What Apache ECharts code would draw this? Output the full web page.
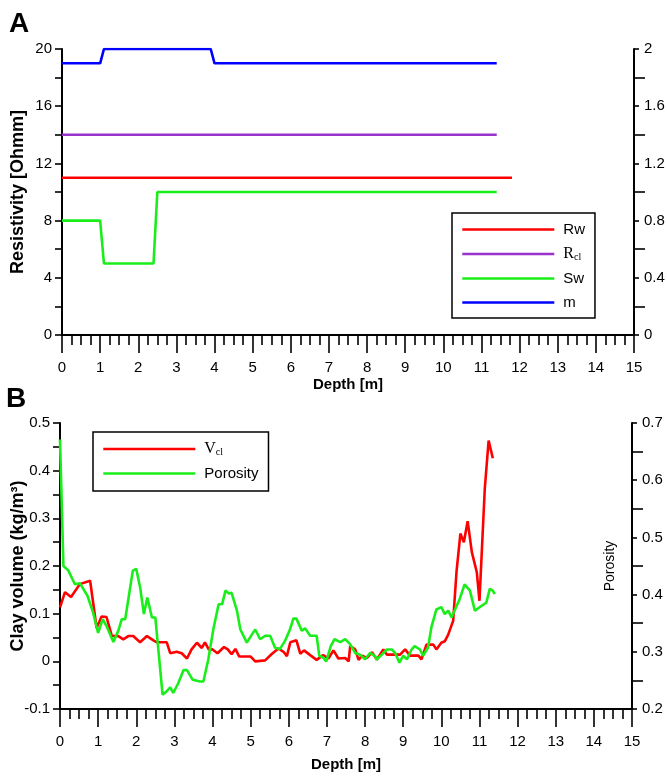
<!DOCTYPE html>
<html><head><meta charset="utf-8">
<script src="https://cdn.jsdelivr.net/npm/echarts@6/dist/echarts.min.js"></script>
<style>html,body{margin:0;padding:0;background:#fff}#c{width:667px;height:778px}</style>
</head><body><div id="c"></div>
<script>
// ---------- Panel A data ----------
const rwDepth  = [0, 11.8];
const rwVal    = [11, 11];
const rclDepth = [0, 11.4];
const rclVal   = [14, 14];
const swDepth  = [0, 1.0, 1.1, 2.4, 2.5, 11.4];
const swVal    = [0.8, 0.8, 0.5, 0.5, 1.0, 1.0];
const mDepth   = [0, 1.0, 1.1, 3.9, 4.0, 11.4];
const mVal     = [1.9, 1.9, 2.0, 2.0, 1.9, 1.9];

// ---------- Panel B data ----------
const vclDepth = [0, 0.13, 0.29, 0.52, 0.79, 0.96, 1.09, 1.22, 1.36, 1.53, 1.66, 1.79, 1.92, 2.1, 2.28, 2.45, 2.54, 2.8, 2.89, 3.06, 3.19, 3.33, 3.45, 3.59, 3.72, 3.8, 3.9, 4.0, 4.13, 4.3, 4.4, 4.5, 4.6, 4.7, 5.0, 5.12, 5.38, 5.56, 5.73, 5.86, 5.95, 6.04, 6.2, 6.3, 6.4, 6.56, 6.73, 6.9, 7.04, 7.17, 7.3, 7.48, 7.57, 7.61, 7.74, 7.83, 7.92, 8.05, 8.18, 8.31, 8.48, 8.57, 8.92, 9.05, 9.18, 9.4, 9.48, 9.61, 9.79, 9.87, 10.0, 10.09, 10.18, 10.31, 10.4, 10.5, 10.59, 10.69, 10.8, 10.93, 11.0, 11.14, 11.24, 11.35];
const vclVal   = [0.113, 0.145, 0.135, 0.162, 0.169, 0.07, 0.094, 0.093, 0.053, 0.053, 0.046, 0.053, 0.053, 0.04, 0.053, 0.044, 0.04, 0.04, 0.017, 0.02, 0.017, 0.006, 0.025, 0.039, 0.028, 0.04, 0.025, 0.025, 0.017, 0.03, 0.025, 0.015, 0.026, 0.01, 0.01, 0.0, 0.002, 0.016, 0.027, 0.02, 0.011, 0.04, 0.044, 0.016, 0.023, 0.013, 0.003, 0.013, 0.006, 0.023, 0.006, 0.007, 0.0, 0.032, 0.025, 0.003, 0.012, 0.007, 0.019, 0.004, 0.025, 0.014, 0.014, 0.025, 0.012, 0.012, 0.004, 0.035, 0.035, 0.025, 0.039, 0.042, 0.056, 0.085, 0.19, 0.268, 0.25, 0.294, 0.229, 0.187, 0.127, 0.363, 0.463, 0.426];
const porDepth = [0, 0.09, 0.22, 0.39, 0.52, 0.72, 0.87, 1.0, 1.12, 1.22, 1.4, 1.53, 1.62, 1.71, 1.91, 2.0, 2.1, 2.2, 2.29, 2.41, 2.5, 2.69, 2.8, 2.89, 2.97, 3.1, 3.24, 3.33, 3.48, 3.67, 3.76, 3.89, 4.02, 4.16, 4.25, 4.34, 4.43, 4.5, 4.64, 4.73, 4.9, 5.03, 5.12, 5.25, 5.38, 5.51, 5.64, 5.77, 5.9, 6.03, 6.12, 6.2, 6.34, 6.43, 6.56, 6.73, 6.8, 6.9, 6.98, 7.1, 7.2, 7.35, 7.48, 7.61, 7.74, 7.87, 8.0, 8.13, 8.27, 8.3, 8.44, 8.57, 8.7, 8.79, 8.9, 9.0, 9.1, 9.22, 9.3, 9.44, 9.52, 9.65, 9.74, 9.87, 10.0, 10.09, 10.18, 10.27, 10.4, 10.48, 10.61, 10.75, 10.88, 11.05, 11.18, 11.27, 11.35, 11.4];
const porVal   = [0.671, 0.45, 0.442, 0.418, 0.42, 0.398, 0.368, 0.333, 0.357, 0.345, 0.317, 0.337, 0.357, 0.357, 0.442, 0.445, 0.413, 0.366, 0.395, 0.36, 0.36, 0.225, 0.231, 0.238, 0.228, 0.245, 0.268, 0.268, 0.251, 0.248, 0.248, 0.287, 0.339, 0.383, 0.383, 0.407, 0.402, 0.403, 0.372, 0.339, 0.316, 0.33, 0.339, 0.322, 0.328, 0.328, 0.307, 0.305, 0.319, 0.339, 0.358, 0.358, 0.337, 0.341, 0.328, 0.328, 0.293, 0.29, 0.283, 0.31, 0.322, 0.317, 0.322, 0.313, 0.298, 0.295, 0.287, 0.298, 0.292, 0.286, 0.295, 0.304, 0.304, 0.298, 0.281, 0.293, 0.287, 0.304, 0.31, 0.304, 0.293, 0.307, 0.343, 0.374, 0.378, 0.366, 0.372, 0.36, 0.38, 0.392, 0.418, 0.407, 0.372, 0.38, 0.386, 0.41, 0.407, 0.401];

const zip = (xs, ys) => xs.map((x, i) => [x, ys[i]]);

const FONT = 'Liberation Sans';
const BLACK = '#000';
const axisLine = { show: true, onZero: false, lineStyle: { color: BLACK, width: 2 } };

function depthAxis(gridIndex, nameGap) {
  return {
    type: 'value', gridIndex, min: 0, max: 15, interval: 1,
    name: 'Depth [m]', nameLocation: 'middle', nameGap, nameMoveOverlap: false,
    nameTextStyle: { fontFamily: FONT, fontSize: 15, fontWeight: 'bold', color: BLACK },
    axisLine,
    axisTick: { show: true, length: 18, lineStyle: { color: BLACK, width: 1.6 } },
    minorTick: { show: true, splitNumber: 4, length: 10, lineStyle: { color: BLACK, width: 1.6 } },
    axisLabel: { fontFamily: FONT, fontSize: 15, color: BLACK, margin: 25 },
    splitLine: { show: false }, minorSplitLine: { show: false }
  };
}
function leftAxis(gridIndex, min, max, interval, name, nameGap) {
  return {
    type: 'value', gridIndex, position: 'left', min, max, interval,
    name, nameLocation: 'middle', nameRotate: 90, nameGap, nameMoveOverlap: false,
    nameTextStyle: { fontFamily: FONT, fontSize: 18, fontWeight: 'bold', color: BLACK },
    axisLine,
    axisTick: { show: true, length: 7, lineStyle: { color: BLACK, width: 1.6 } },
    minorTick: { show: true, splitNumber: 2, length: 7, lineStyle: { color: BLACK, width: 1.6 } },
    axisLabel: { fontFamily: FONT, fontSize: 15, color: BLACK, margin: 10 },
    splitLine: { show: false }, minorSplitLine: { show: false }
  };
}
function rightAxis(gridIndex, min, max, interval, name, nameGap) {
  return {
    type: 'value', gridIndex, position: 'right', min, max, interval,
    name, nameLocation: 'middle', nameRotate: 90, nameGap, nameMoveOverlap: false,
    nameTextStyle: { fontFamily: FONT, fontSize: 14, color: BLACK },
    axisLine,
    axisTick: { show: true, length: 5, lineStyle: { color: BLACK, width: 1.6 } },
    minorTick: { show: true, splitNumber: 2, length: 11, lineStyle: { color: BLACK, width: 1.6 } },
    axisLabel: { fontFamily: FONT, fontSize: 15, color: BLACK, margin: 10 },
    splitLine: { show: false }, minorSplitLine: { show: false }
  };
}

const RED = '#ff0000', PURPLE = '#9933cc', GREEN = '#1aee1a', BLUE = '#0000ff';
function line(name, xAxisIndex, yAxisIndex, data, color, z) {
  return {
    name, type: 'line', xAxisIndex, yAxisIndex, data, color,
    symbol: 'none', smooth: false, z: z || 2, animation: false,
    lineStyle: { color, width: 2.6 }
  };
}

const rich = {
  r: { fontFamily: 'Liberation Serif', fontSize: 16, color: BLACK, lineHeight: 14 },
  s: { fontFamily: 'Liberation Serif', fontSize: 10, color: BLACK, lineHeight: 8, padding: [6, 0, 0, 0] }
};
const legendCommon = {
  orient: 'vertical', itemWidth: 92, itemHeight: 14, itemGap: 9,
  borderColor: BLACK, borderWidth: 1.5, borderRadius: 0, backgroundColor: '#fff',
  itemStyle: { opacity: 0 },
  lineStyle: { width: 2.6 },
  textStyle: { fontFamily: FONT, fontSize: 15, color: BLACK, lineHeight: 14, padding: [0, 0, 0, 4], rich },
  formatter: n => n === 'Rcl' ? '{r|R}{s|cl}' : (n === 'Vcl' ? '{r|V}{s|cl}' : n)
};

const option = {
  backgroundColor: '#fff',
  animation: false,
  title: [
    { text: 'A', left: 4, top: 5, textStyle: { fontFamily: FONT, fontSize: 28, fontWeight: 'bold', color: BLACK } },
    { text: 'B', left: 1, top: 380, textStyle: { fontFamily: FONT, fontSize: 28, fontWeight: 'bold', color: BLACK } }
  ],
  grid: [
    { left: 62, top: 49, width: 572, height: 286, outerBoundsMode: 'none', containLabel: false },
    { left: 60, top: 423, width: 572, height: 286, outerBoundsMode: 'none', containLabel: false }
  ],
  xAxis: [depthAxis(0, 42), depthAxis(1, 48)],
  yAxis: [
    leftAxis(0, 0, 20, 4, 'Resistivity [Ohmm]', 35),
    rightAxis(0, 0, 2, 0.4, '', 0),
    leftAxis(1, -0.1, 0.5, 0.1, 'Clay volume (kg/m³)', 33),
    rightAxis(1, 0.2, 0.7, 0.1, 'Porosity', -29)
  ],
  legend: [
    Object.assign({}, legendCommon, { left: 452, top: 213, padding: [9, 10, 8, 9], data: ['Rw', 'Rcl', 'Sw', 'm'] }),
    Object.assign({}, legendCommon, { left: 93, top: 432, padding: [9, 10, 10, 9], data: ['Vcl', 'Porosity'] })
  ],
  series: [
    line('Rw', 0, 0, zip(rwDepth, rwVal), RED),
    line('Rcl', 0, 0, zip(rclDepth, rclVal), PURPLE),
    line('Sw', 0, 1, zip(swDepth, swVal), GREEN),
    line('m', 0, 1, zip(mDepth, mVal), BLUE),
    line('Vcl', 1, 2, zip(vclDepth, vclVal), RED, 2),
    line('Porosity', 1, 3, zip(porDepth, porVal), GREEN, 3)
  ]
};
const chart = echarts.init(document.getElementById('c'), null, { renderer: 'canvas' });
chart.setOption(option);
</script></body></html>
